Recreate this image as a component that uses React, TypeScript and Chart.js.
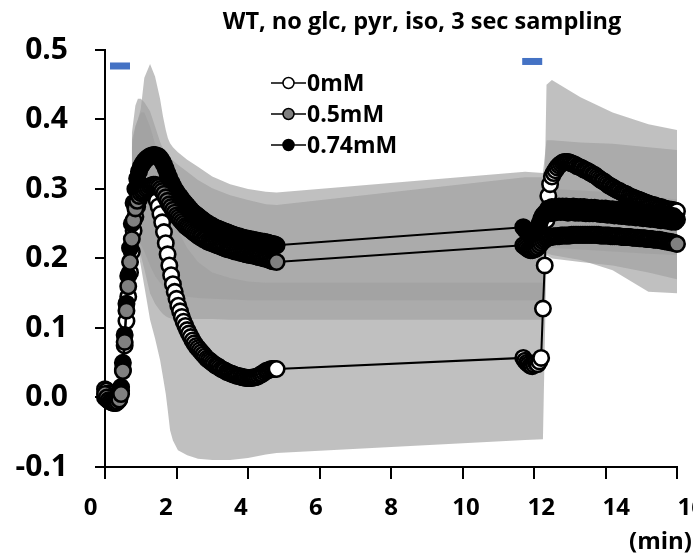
import { useEffect, useRef } from "react";
import { Chart, registerables } from "chart.js";

Chart.register(...registerables);

const TITLE = "WT, no glc, pyr, iso, 3 sec sampling";
const X_UNIT = "(min)";
const SERIES_NAMES = ["0mM", "0.5mM", "0.74mM"];
const X_TICKS = [0, 2, 4, 6, 8, 10, 12, 14, 16];
const Y_TICKS = [-0.1, 0, 0.1, 0.2, 0.3, 0.4, 0.5];

// first recording segment (min), 3 s sampling
const T1 = [0, 0.05, 0.1, 0.15, 0.2, 0.25, 0.3, 0.35, 0.4, 0.45,
  0.5, 0.55, 0.6, 0.65, 0.7, 0.75, 0.8, 0.85, 0.9, 0.95,
  1.0, 1.05, 1.1, 1.15, 1.2, 1.25, 1.3, 1.35, 1.4, 1.45,
  1.5, 1.55, 1.6, 1.65, 1.7, 1.75, 1.8, 1.85, 1.9, 1.95,
  2.0, 2.05, 2.1, 2.15, 2.2, 2.25, 2.3, 2.35, 2.4, 2.45,
  2.5, 2.55, 2.6, 2.65, 2.7, 2.75, 2.8, 2.85, 2.9, 2.95,
  3.0, 3.05, 3.1, 3.15, 3.2, 3.25, 3.3, 3.35, 3.4, 3.45,
  3.5, 3.55, 3.6, 3.65, 3.7, 3.75, 3.8, 3.85, 3.9, 3.95,
  4.0, 4.05, 4.1, 4.15, 4.2, 4.25, 4.3, 4.35, 4.4, 4.45,
  4.5, 4.55, 4.6, 4.65, 4.7, 4.75, 4.8];
const W1 = [0.012, 0.010, 0.006, 0.002, -0.002, -0.004, -0.005, -0.004, -0.002, 0.010,
  0.040, 0.075, 0.110, 0.145, 0.180, 0.210, 0.240, 0.260, 0.275, 0.285,
  0.292, 0.296, 0.298, 0.300, 0.300, 0.299, 0.297, 0.294, 0.289, 0.283,
  0.275, 0.264, 0.252, 0.238, 0.222, 0.206, 0.190, 0.176, 0.163, 0.152,
  0.142, 0.132, 0.124, 0.116, 0.109, 0.103, 0.097, 0.092, 0.087, 0.082,
  0.078, 0.074, 0.071, 0.068, 0.065, 0.062, 0.059, 0.056, 0.054, 0.052,
  0.050, 0.048, 0.046, 0.045, 0.043, 0.041, 0.040, 0.039, 0.037, 0.036,
  0.035, 0.034, 0.033, 0.032, 0.031, 0.031, 0.030, 0.029, 0.029, 0.028,
  0.028, 0.028, 0.028, 0.029, 0.029, 0.030, 0.031, 0.033, 0.034, 0.036,
  0.038, 0.039, 0.040, 0.041, 0.041, 0.041, 0.041];
const G1 = [0.005, 0.000, -0.004, -0.006, -0.007, -0.008, -0.008, -0.006, -0.003, 0.005,
  0.038, 0.080, 0.125, 0.160, 0.195, 0.228, 0.255, 0.272, 0.283, 0.290,
  0.294, 0.296, 0.298, 0.300, 0.302, 0.304, 0.305, 0.306, 0.306, 0.305,
  0.303, 0.300, 0.297, 0.293, 0.288, 0.283, 0.278, 0.274, 0.270, 0.266,
  0.262, 0.259, 0.256, 0.253, 0.250, 0.247, 0.245, 0.243, 0.241, 0.239,
  0.237, 0.235, 0.233, 0.231, 0.230, 0.228, 0.227, 0.225, 0.224, 0.223,
  0.222, 0.221, 0.220, 0.219, 0.218, 0.217, 0.216, 0.215, 0.214, 0.213,
  0.213, 0.212, 0.211, 0.210, 0.210, 0.209, 0.208, 0.208, 0.207, 0.206,
  0.206, 0.205, 0.205, 0.204, 0.204, 0.203, 0.202, 0.202, 0.201, 0.200,
  0.200, 0.199, 0.198, 0.197, 0.196, 0.196, 0.195];
const B1 = [0.000, -0.002, -0.004, -0.005, -0.006, -0.006, -0.005, -0.003, 0.002, 0.015,
  0.050, 0.090, 0.135, 0.175, 0.215, 0.250, 0.280, 0.300, 0.315, 0.325,
  0.332, 0.336, 0.340, 0.343, 0.345, 0.347, 0.348, 0.349, 0.349, 0.348,
  0.347, 0.344, 0.340, 0.335, 0.329, 0.322, 0.316, 0.310, 0.305, 0.300,
  0.296, 0.292, 0.289, 0.285, 0.282, 0.279, 0.276, 0.273, 0.270, 0.267,
  0.265, 0.263, 0.261, 0.259, 0.257, 0.255, 0.253, 0.251, 0.250, 0.248,
  0.247, 0.245, 0.244, 0.243, 0.242, 0.241, 0.240, 0.239, 0.238, 0.237,
  0.236, 0.235, 0.234, 0.233, 0.232, 0.232, 0.231, 0.230, 0.229, 0.229,
  0.228, 0.228, 0.227, 0.227, 0.226, 0.226, 0.225, 0.225, 0.224, 0.224,
  0.223, 0.223, 0.222, 0.221, 0.221, 0.220, 0.219];

// second recording segment (min), 3 s sampling
const T2 = [11.7, 11.75, 11.8, 11.85, 11.9, 11.95, 12.0, 12.05, 12.1, 12.15,
  12.2, 12.25, 12.3, 12.35, 12.4, 12.45, 12.5, 12.55, 12.6, 12.65,
  12.7, 12.75, 12.8, 12.85, 12.9, 12.95, 13.0, 13.05, 13.1, 13.15,
  13.2, 13.25, 13.3, 13.35, 13.4, 13.45, 13.5, 13.55, 13.6, 13.65,
  13.7, 13.75, 13.8, 13.85, 13.9, 13.95, 14.0, 14.05, 14.1, 14.15,
  14.2, 14.25, 14.3, 14.35, 14.4, 14.45, 14.5, 14.55, 14.6, 14.65,
  14.7, 14.75, 14.8, 14.85, 14.9, 14.95, 15.0, 15.05, 15.1, 15.15,
  15.2, 15.25, 15.3, 15.35, 15.4, 15.45, 15.5, 15.55, 15.6, 15.65,
  15.7, 15.75, 15.8, 15.85, 15.9, 15.95, 16.0];
const W2 = [0.057, 0.053, 0.050, 0.048, 0.046, 0.045, 0.047, 0.050, 0.048, 0.052,
  0.057, 0.128, 0.190, 0.255, 0.290, 0.307, 0.318, 0.323, 0.327, 0.331,
  0.334, 0.336, 0.338, 0.339, 0.339, 0.339, 0.338, 0.337, 0.336, 0.335,
  0.333, 0.332, 0.331, 0.330, 0.328, 0.327, 0.326, 0.324, 0.323, 0.321,
  0.320, 0.318, 0.316, 0.314, 0.312, 0.311, 0.309, 0.307, 0.305, 0.304,
  0.302, 0.301, 0.299, 0.298, 0.297, 0.295, 0.294, 0.293, 0.292, 0.290,
  0.289, 0.288, 0.287, 0.286, 0.285, 0.284, 0.283, 0.282, 0.281, 0.280,
  0.279, 0.278, 0.277, 0.277, 0.276, 0.275, 0.274, 0.274, 0.273, 0.272,
  0.271, 0.271, 0.270, 0.270, 0.269, 0.269, 0.268];
const G2 = [0.219, 0.217, 0.215, 0.213, 0.212, 0.212, 0.213, 0.214, 0.216, 0.219,
  0.222, 0.225, 0.227, 0.229, 0.230, 0.231, 0.231, 0.232, 0.232, 0.232,
  0.232, 0.233, 0.233, 0.233, 0.233, 0.233, 0.233, 0.234, 0.234, 0.234,
  0.234, 0.234, 0.234, 0.234, 0.234, 0.234, 0.234, 0.234, 0.234, 0.234,
  0.234, 0.234, 0.234, 0.233, 0.233, 0.233, 0.233, 0.233, 0.233, 0.232,
  0.232, 0.232, 0.232, 0.232, 0.232, 0.231, 0.231, 0.231, 0.231, 0.231,
  0.231, 0.230, 0.230, 0.230, 0.230, 0.229, 0.229, 0.229, 0.229, 0.228,
  0.228, 0.228, 0.228, 0.227, 0.227, 0.227, 0.227, 0.226, 0.226, 0.225,
  0.225, 0.224, 0.224, 0.223, 0.223, 0.222, 0.221];
const B2 = [0.245, 0.242, 0.239, 0.237, 0.236, 0.235, 0.236, 0.238, 0.243, 0.250,
  0.257, 0.262, 0.265, 0.267, 0.272, 0.265, 0.274, 0.266, 0.274, 0.267,
  0.275, 0.267, 0.275, 0.267, 0.275, 0.266, 0.274, 0.267, 0.275, 0.266,
  0.274, 0.266, 0.274, 0.266, 0.274, 0.265, 0.273, 0.265, 0.273, 0.265,
  0.273, 0.265, 0.272, 0.264, 0.272, 0.264, 0.272, 0.263, 0.271, 0.263,
  0.271, 0.262, 0.270, 0.262, 0.270, 0.261, 0.269, 0.261, 0.269, 0.260,
  0.268, 0.260, 0.268, 0.259, 0.267, 0.259, 0.267, 0.258, 0.266, 0.258,
  0.266, 0.257, 0.265, 0.257, 0.264, 0.256, 0.264, 0.255, 0.263, 0.255,
  0.262, 0.254, 0.262, 0.253, 0.261, 0.253, 0.256];

// shaded variability bands
const BAND_X = [0.75, 0.85, 0.92, 1.0, 1.1, 1.26, 1.4, 1.54, 1.62, 1.7, 1.76, 1.82, 1.9, 2.04, 2.3, 2.6, 3.0, 3.5, 4.0, 4.5, 4.8,
  11.75, 12.25, 12.35, 12.5, 13.3, 14.2, 15.2, 16.0];
const A_UP = [0.36, 0.39, 0.40, 0.41, 0.41, 0.39, 0.365, 0.34, 0.325, 0.305, 0.29, 0.275, 0.26, 0.24, 0.215, 0.195, 0.18, 0.172, 0.167, 0.165, 0.165,
  0.165, 0.165, 0.45, 0.457, 0.432, 0.41, 0.393, 0.385];
const A_LO = [0.228, 0.225, 0.212, 0.19, 0.16, 0.112, 0.085, 0.054, 0.03, 0.005, -0.02, -0.047, -0.062, -0.076, -0.083, -0.088, -0.09, -0.09, -0.087, -0.082, -0.08,
  -0.061, -0.06, 0.205, 0.2, 0.195, 0.19, 0.18, 0.17];
const B_UP = [0.38, 0.42, 0.43, 0.43, 0.425, 0.412, 0.39, 0.368, 0.358, 0.352, 0.348, 0.345, 0.341, 0.335, 0.325, 0.313, 0.301, 0.291, 0.284, 0.278, 0.277,
  0.317, 0.317, 0.30, 0.30, 0.298, 0.295, 0.29, 0.285];
const B_LO = [0.23, 0.228, 0.218, 0.205, 0.185, 0.15, 0.135, 0.125, 0.12, 0.117, 0.115, 0.114, 0.113, 0.113, 0.113, 0.113, 0.113, 0.112, 0.112, 0.112, 0.112,
  0.112, 0.112, 0.215, 0.215, 0.213, 0.21, 0.207, 0.205];
const C_UP = [0.37, 0.39, 0.40, 0.415, 0.46, 0.48, 0.462, 0.43, 0.405, 0.385, 0.373, 0.366, 0.36, 0.353, 0.342, 0.332, 0.318, 0.307, 0.30, 0.296, 0.295,
  0.325, 0.323, 0.37, 0.37, 0.367, 0.365, 0.36, 0.356];
const C_LO = [0.232, 0.23, 0.225, 0.22, 0.21, 0.19, 0.175, 0.165, 0.16, 0.157, 0.155, 0.152, 0.15, 0.147, 0.145, 0.143, 0.142, 0.141, 0.14, 0.14, 0.14,
  0.14, 0.14, 0.208, 0.205, 0.198, 0.183, 0.152, 0.15];

// stimulus markers
const STIM_START = [0.14, 11.67];
const STIM_END = [0.7, 12.23];
const STIM_LEVEL = [0.477, 0.4835];

const FONT = '"Open Sans", "Liberation Sans", sans-serif';
const BAND_FILL = "rgba(160,160,160,0.66)";
const POINT_FILLS = ["#ffffff", "#808080", "#000000"];

const pts = (xs: number[], ys: number[]) => xs.map((x, i) => ({ x, y: ys[i] }));

const seriesDs = (label: string, ys1: number[], ys2: number[], fillColor: string) => ({
  label,
  data: [...pts(T1, ys1), ...pts(T2, ys2)],
  borderColor: "#000",
  borderWidth: 2,
  pointRadius: 7.7,
  pointBorderWidth: 2.6,
  pointBackgroundColor: fillColor,
  pointBorderColor: "#000",
  fill: false,
  clip: false as const,
});

const bandDs = (ys: number[], fillTarget: string | boolean) => ({
  label: "",
  data: pts(BAND_X, ys),
  borderColor: "transparent",
  borderWidth: 0,
  pointRadius: 0,
  backgroundColor: BAND_FILL,
  fill: fillTarget,
});

const overlay = {
  id: "overlay",
  afterDraw(chart: any) {
    const ctx = chart.ctx;
    const xs = chart.scales.x;
    ctx.save();
    ctx.fillStyle = "#000";
    ctx.textBaseline = "alphabetic";

    // x tick labels (spread slightly wider than the tick marks, as in the source)
    ctx.font = `bold 24px ${FONT}`;
    ctx.textAlign = "center";
    const mid = xs.getPixelForValue(8);
    X_TICKS.forEach((v) => {
      const p = xs.getPixelForValue(v);
      ctx.fillText(String(v), p + (p - mid) * 0.05, 515);
    });

    ctx.font = `bold 23.5px ${FONT}`;
    ctx.fillText(TITLE, 422, 29);

    const rows = [83, 114, 145];
    ctx.font = `bold 23px ${FONT}`;
    ctx.textAlign = "left";
    SERIES_NAMES.forEach((name, i) => {
      const y = rows[i];
      ctx.strokeStyle = "#000";
      ctx.lineWidth = 1.5;
      ctx.beginPath();
      ctx.moveTo(271, y);
      ctx.lineTo(306, y);
      ctx.stroke();
      ctx.beginPath();
      ctx.arc(288.5, y, 5.5, 0, Math.PI * 2);
      ctx.fillStyle = POINT_FILLS[i];
      ctx.fill();
      ctx.stroke();
      ctx.fillStyle = "#000";
      ctx.fillText(name, 307, y + 8);
    });

    ctx.font = `bold 24px ${FONT}`;
    ctx.textAlign = "right";
    ctx.fillText(X_UNIT, 692, 549);
    ctx.restore();
  },
};

export default function App() {
  const ref = useRef<HTMLCanvasElement | null>(null);

  useEffect(() => {
    if (!ref.current) return;
    const datasets: any[] = [
      seriesDs(SERIES_NAMES[1], G1, G2, POINT_FILLS[1]),
      seriesDs(SERIES_NAMES[2], B1, B2, POINT_FILLS[2]),
      seriesDs(SERIES_NAMES[0], W1, W2, POINT_FILLS[0]),
      ...STIM_START.map((s, i) => ({
        label: "",
        data: [
          { x: s, y: STIM_LEVEL[i] },
          { x: STIM_END[i], y: STIM_LEVEL[i] },
        ],
        borderColor: "#4472C4",
        borderWidth: 7,
        borderCapStyle: "butt",
        pointRadius: 0,
        fill: false,
      })),
      bandDs(A_UP, "+1"),
      bandDs(A_LO, false),
      bandDs(B_UP, "+1"),
      bandDs(B_LO, false),
      bandDs(C_UP, "+1"),
      bandDs(C_LO, false),
    ];

    const chart = new Chart(ref.current, {
      type: "line",
      data: { datasets },
      plugins: [overlay],
      options: {
        animation: false,
        responsive: false,
        events: [],
        layout: { padding: { top: 50, right: 16, left: 0, bottom: 0 } },
        plugins: {
          legend: { display: false },
          tooltip: { enabled: false },
          title: { display: false },
        },
        scales: {
          x: {
            type: "linear",
            min: 0,
            max: 16,
            afterBuildTicks: (s: any) => {
              s.ticks = X_TICKS.map((v) => ({ value: v }));
            },
            afterFit: (s: any) => {
              s.height = 92;
              s.paddingLeft = 0;
              s.paddingRight = 0;
            },
            ticks: { display: false },
            grid: { drawOnChartArea: false, drawTicks: true, tickLength: 12, color: "#000", lineWidth: 2 },
            border: { display: true, color: "#000", width: 2 },
          },
          y: {
            type: "linear",
            min: -0.1,
            max: 0.5,
            afterBuildTicks: (s: any) => {
              s.ticks = Y_TICKS.map((v) => ({ value: v }));
            },
            afterFit: (s: any) => {
              s.width = 105;
              s.paddingTop = 0;
              s.paddingBottom = 0;
            },
            ticks: {
              padding: 27,
              color: "#000",
              font: { family: FONT, size: 30, weight: "bold" },
              callback: (v: any) => Number(v).toFixed(1),
            },
            grid: { drawOnChartArea: false, drawTicks: true, tickLength: 10, color: "#000", lineWidth: 2 },
            border: { display: true, color: "#000", width: 2 },
          },
        },
      } as any,
    });
    return () => chart.destroy();
  }, []);

  return (
    <div style={{ position: "fixed", left: 0, top: 0, width: 693, height: 559, background: "#fff" }}>
      <canvas ref={ref} width={693} height={559} style={{ display: "block" }} />
    </div>
  );
}
